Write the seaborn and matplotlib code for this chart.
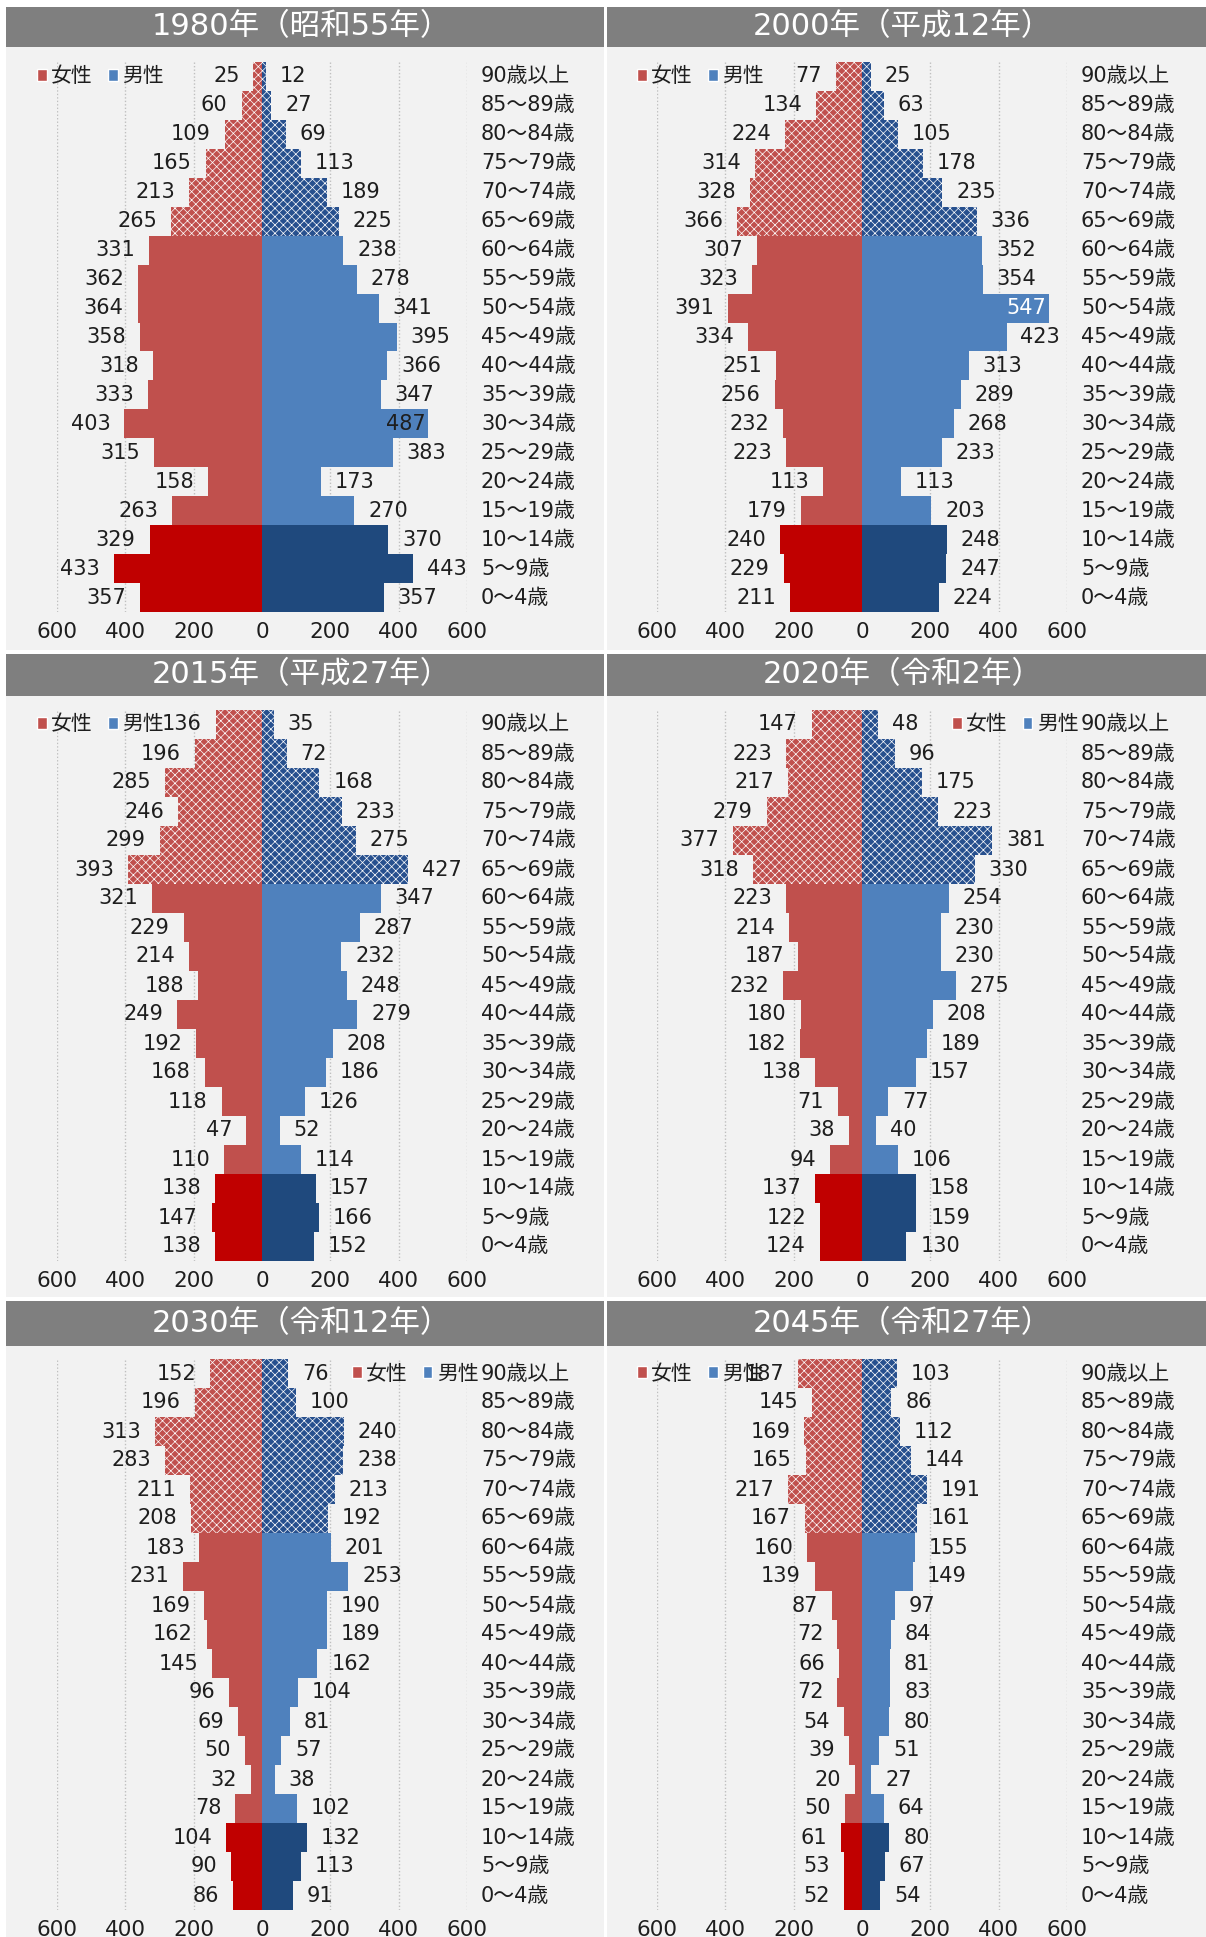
import matplotlib
matplotlib.use("Agg")
import matplotlib.pyplot as plt
from matplotlib.patches import Patch, Rectangle
import pandas as pd
import seaborn as sns

# ---------------------------------------------------------------- data
AGES = ["90歳以上", "85～89歳", "80～84歳", "75～79歳", "70～74歳", "65～69歳",
        "60～64歳", "55～59歳", "50～54歳", "45～49歳", "40～44歳", "35～39歳",
        "30～34歳", "25～29歳", "20～24歳", "15～19歳", "10～14歳", "5～9歳", "0～4歳"]

TITLES = ["1980年（昭和55年）", "2000年（平成12年）", "2015年（平成27年）",
          "2020年（令和2年）", "2030年（令和12年）", "2045年（令和27年）"]

F_1980 = [25, 60, 109, 165, 213, 265, 331, 362, 364, 358, 318, 333, 403, 315, 158, 263, 329, 433, 357]
M_1980 = [12, 27, 69, 113, 189, 225, 238, 278, 341, 395, 366, 347, 487, 383, 173, 270, 370, 443, 357]

F_2000 = [77, 134, 224, 314, 328, 366, 307, 323, 391, 334, 251, 256, 232, 223, 113, 179, 240, 229, 211]
M_2000 = [25, 63, 105, 178, 235, 336, 352, 354, 547, 423, 313, 289, 268, 233, 113, 203, 248, 247, 224]

F_2015 = [136, 196, 285, 246, 299, 393, 321, 229, 214, 188, 249, 192, 168, 118, 47, 110, 138, 147, 138]
M_2015 = [35, 72, 168, 233, 275, 427, 347, 287, 232, 248, 279, 208, 186, 126, 52, 114, 157, 166, 152]

F_2020 = [147, 223, 217, 279, 377, 318, 223, 214, 187, 232, 180, 182, 138, 71, 38, 94, 137, 122, 124]
M_2020 = [48, 96, 175, 223, 381, 330, 254, 230, 230, 275, 208, 189, 157, 77, 40, 106, 158, 159, 130]

F_2030 = [152, 196, 313, 283, 211, 208, 183, 231, 169, 162, 145, 96, 69, 50, 32, 78, 104, 90, 86]
M_2030 = [76, 100, 240, 238, 213, 192, 201, 253, 190, 189, 162, 104, 81, 57, 38, 102, 132, 113, 91]

F_2045 = [187, 145, 169, 165, 217, 167, 160, 139, 87, 72, 66, 72, 54, 39, 20, 50, 61, 53, 52]
M_2045 = [103, 86, 112, 144, 191, 161, 155, 149, 97, 84, 81, 83, 80, 51, 27, 64, 80, 67, 54]

FEMALE = [F_1980, F_2000, F_2015, F_2020, F_2030, F_2045]
MALE = [M_1980, M_2000, M_2015, M_2020, M_2030, M_2045]
LEGEND_SIDE = ["left", "left", "left", "right", "right", "left"]

XTICKS = [-600, -400, -200, 0, 200, 400, 600]

# age bands: 65+ / 15-64 / 0-14
BANDS = ["old"] * 6 + ["work"] * 10 + ["young"] * 3
N_OLD = BANDS.count("old")

# ---------------------------------------------------------------- style
PALETTE = {
    "F_old": "#C0504D", "F_work": "#C0504D", "F_young": "#C00000",
    "M_old": "#27508E", "M_work": "#4F81BD", "M_young": "#1F497D",
}
HUE_ORDER = list(PALETTE)
TEXT = "#1e1e1e"

sns.set_theme(style="white")
plt.rcParams["font.family"] = ["DejaVu Sans", "Noto Sans CJK JP"]
plt.rcParams["hatch.linewidth"] = 0.5
plt.rcParams["hatch.color"] = "white"

W, H = 1206, 1937
fig = plt.figure(figsize=(W / 100, H / 100), dpi=100, facecolor="white")


def rect_frac(x0, y0, x1, y1):
    return [x0 / W, 1 - y1 / H, (x1 - x0) / W, (y1 - y0) / H]


ROWS = [
    dict(title=(7, 47), bars=(62, 612), bg_end=650),
    dict(title=(654, 696), bars=(710, 1261), bg_end=1297),
    dict(title=(1301, 1346), bars=(1359, 1910), bg_end=1937),
]
COLS = [dict(x=(6, 604), center=262), dict(x=(607, 1206), center=862)]
HALF = 205  # pixels from 0 to 600


def draw_panel(idx):
    row = ROWS[idx // 2]
    col = COLS[idx % 2]
    px0, px1 = col["x"]
    ty0, ty1 = row["title"]

    # title band and panel background
    fig.add_artist(Rectangle((px0 / W, 1 - ty1 / H), (px1 - px0) / W, (ty1 - ty0) / H,
                             transform=fig.transFigure, facecolor="#7F7F7F",
                             edgecolor="none", zorder=-10))
    fig.add_artist(Rectangle((px0 / W, 1 - row["bg_end"] / H), (px1 - px0) / W,
                             (row["bg_end"] - ty1) / H, transform=fig.transFigure,
                             facecolor="#F2F2F2", edgecolor="none", zorder=-10))
    fig.text(((px0 + px1) / 2 - 4) / W, 1 - ((ty0 + ty1) / 2) / H, TITLES[idx],
             color="white", fontsize=22, ha="center", va="center")

    by0, by1 = row["bars"]
    ax = fig.add_axes(rect_frac(col["center"] - HALF, by0, col["center"] + HALF, by1))
    ax.set_facecolor("#F2F2F2")

    female = FEMALE[idx]
    male = MALE[idx]
    df = pd.DataFrame({
        "age": AGES + AGES,
        "value": [-v for v in female] + list(male),
        "group": ["F_" + b for b in BANDS] + ["M_" + b for b in BANDS],
    })
    sns.barplot(data=df, x="value", y="age", hue="group", order=AGES,
                hue_order=HUE_ORDER, palette=PALETTE, dodge=False, width=1.0,
                orient="h", saturation=1, linewidth=0, errorbar=None,
                legend=False, ax=ax)

    # pattern fill for the 65+ bands (top rows of the pyramid)
    for p in ax.patches:
        row_idx = int(round(p.get_y() + p.get_height() / 2))
        if row_idx < N_OLD:
            p.set_hatch("xxxx")
            p.set_edgecolor("white")
            p.set_linewidth(0)

    ax.set_xlim(-600, 600)
    ax.set_ylim(len(AGES) - 0.5, -0.5)
    ax.set_xticks(XTICKS)
    ax.set_xticklabels([str(abs(t)) for t in XTICKS], fontsize=15.5, color=TEXT)
    ax.tick_params(axis="x", length=0, pad=7)
    ax.set_yticks([])
    ax.set_xlabel("")
    ax.set_ylabel("")
    for s in ax.spines.values():
        s.set_visible(False)
    ax.grid(axis="x", linestyle=(0, (1, 1.5)), color="#BFBFBF", linewidth=1.0)
    ax.grid(axis="y", visible=False)
    ax.set_axisbelow(True)

    # value labels
    for i, (f, m) in enumerate(zip(female, male)):
        ax.annotate(str(f), xy=(-f, i), xytext=(-10, 0), textcoords="offset points",
                    ha="right", va="center", fontsize=15, color=TEXT)
        if m > 450:
            ax.annotate(str(m), xy=(m, i), xytext=(-2, 0), textcoords="offset points",
                        ha="right", va="center", fontsize=15,
                        color="white" if m > 500 else TEXT)
        else:
            ax.annotate(str(m), xy=(m, i), xytext=(10, 0), textcoords="offset points",
                        ha="left", va="center", fontsize=15, color=TEXT)

    # age class labels
    for i, a in enumerate(AGES):
        ax.annotate(a, xy=(1, i), xycoords=ax.get_yaxis_transform(), xytext=(10, 0),
                    textcoords="offset points", ha="left", va="center",
                    fontsize=15, color=TEXT)

    # legend
    handles = [Patch(facecolor="#C0504D", label="女性"),
               Patch(facecolor="#4F81BD", label="男性")]
    lx = -0.0476 if LEGEND_SIDE[idx] == "left" else 0.72
    leg = ax.legend(handles=handles, loc="center left", bbox_to_anchor=(lx, 0),
                    bbox_transform=ax.get_yaxis_transform(), ncol=2, frameon=False,
                    fontsize=15, handlelength=0.45, handleheight=0.45,
                    handletextpad=0.2, columnspacing=0.75, borderpad=0,
                    borderaxespad=0)
    for t in leg.get_texts():
        t.set_color(TEXT)


for k in range(6):
    draw_panel(k)

fig.savefig("out.png", dpi=100, facecolor="white")
